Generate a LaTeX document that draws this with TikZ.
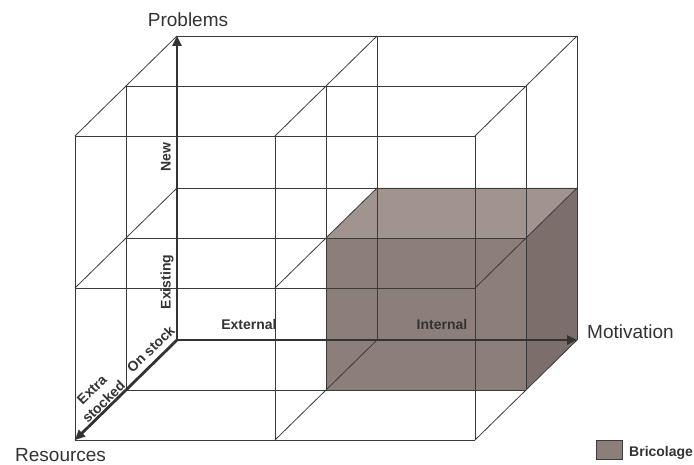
\documentclass[tikz,border=0pt]{standalone}
\usepackage{fontspec}
\setmainfont{Liberation Sans}
\usetikzlibrary{arrows.meta}

\definecolor{gridgray}{HTML}{3A3A3A}
\definecolor{axisgray}{HTML}{333333}
\definecolor{boxfront}{HTML}{8C7F7A}
\definecolor{boxtop}{HTML}{A1938E}
\definecolor{boxside}{HTML}{7C6E6A}

\tikzset{
  gridline/.style={draw=gridgray, line width=0.8pt},
  axis/.style={draw=axisgray, line width=2.8pt, line cap=round,
    -{Triangle[length=10pt,width=9pt]}},
  axisname/.style={text=axisgray, font=\fontsize{19}{22}\selectfont, inner sep=0pt},
  ticklabel/.style={text=axisgray, font=\fontsize{14}{17}\selectfont\bfseries, inner sep=0pt},
}

\begin{document}
\begin{tikzpicture}[x={(200pt,0pt)}, y={(0pt,152pt)}, z={(-51pt,-50pt)}]
		\useasboundingbox (-177pt,-125pt) rectangle (517pt,340pt);

		% bricolage block
		\fill[boxfront] (1,0,1) -- (2,0,1) -- (2,1,1) -- (1,1,1) -- cycle;
		\fill[boxtop] (1,1,1) -- (2,1,1) -- (2,1,0) -- (1,1,0) -- cycle;
		\fill[boxside] (2,0,1) -- (2,0,0) -- (2,1,0) -- (2,1,1) -- cycle;

		% lattice
		\foreach \d in {0,1,2} {
			\foreach \k in {0,1,2} {
				\draw[gridline] (0,\k,\d) -- (2,\k,\d);
				\draw[gridline] (\k,0,\d) -- (\k,2,\d);
				\draw[gridline] (\k,\d,0) -- (\k,\d,2);
			}
		}

		\coordinate (origin) at (0,0,0);
		\coordinate (ptop) at (0,2,0);
		\coordinate (mend) at (2,0,0);
		\coordinate (rend) at (0,0,2);

		\path[axis] (origin) -- (ptop);
		\path[axis] (origin) -- (mend);
		\path[axis] (origin) -- (rend);

		\node[axisname, anchor=base] (problems) at (11pt,313pt) {Problems};
		\node[axisname, anchor=base west] (motivation) at (410pt,1.5pt) {Motivation};
		\node[axisname, anchor=base west] (resources) at (-162pt,-121.5pt) {Resources};

		\node[ticklabel, rotate=90, anchor=base] (new) at (-6.3pt,183pt) {New};
		\node[ticklabel, rotate=90, anchor=base] (existing) at (-6.3pt,58pt) {Existing};
		\node[ticklabel, anchor=base] (external) at (72pt,10pt) {External};
		\node[ticklabel, anchor=base] (internal) at (265pt,10pt) {Internal};
		\node[ticklabel, rotate=44] (onstock) at (-26.3pt,-8.9pt) {On stock};
		\node[ticklabel, rotate=44, align=center] (extra) at (-79.2pt,-55.9pt)
		{Extra\\stocked};

		\node[draw=gridgray, fill=boxfront, line width=0.6pt, minimum width=25.6pt,
		minimum height=18.6pt, inner sep=0pt] (legendbox) at (432.5pt,-110pt) {};
		\node[ticklabel, anchor=base west] (bricolage) at (452pt,-117pt) {Bricolage};
\end{tikzpicture}
\end{document}
